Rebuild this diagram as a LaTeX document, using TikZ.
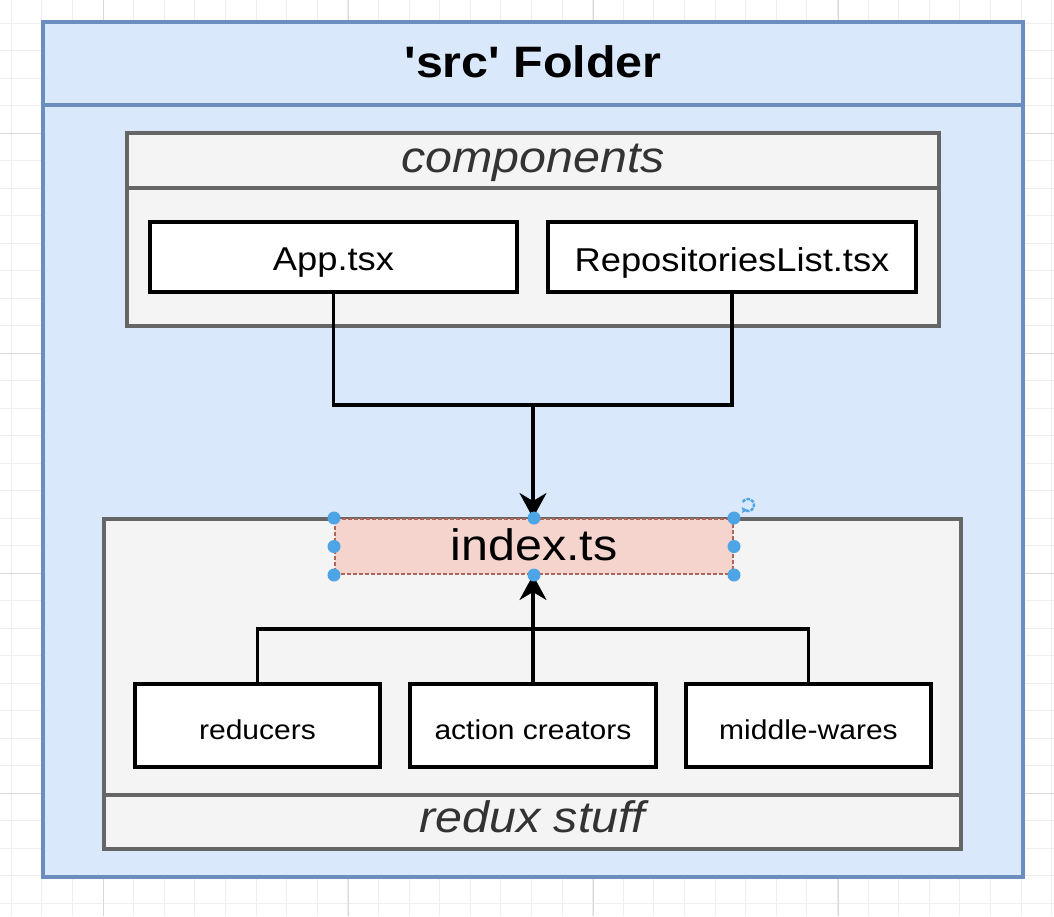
\documentclass[tikz,border=0pt]{standalone}
\usepackage{fontspec}
\setmainfont{Liberation Sans}[FakeStretch=1.1, Ligatures=TeXOff]
\usetikzlibrary{arrows.meta}

\definecolor{folderfill}{HTML}{DAE8FC}
\definecolor{folderline}{HTML}{6C8EBF}
\definecolor{groupfill}{HTML}{F4F4F4}
\definecolor{groupline}{HTML}{666666}
\definecolor{grouptext}{HTML}{333333}
\definecolor{entryfill}{HTML}{F5D4CE}
\definecolor{entryline}{HTML}{B0645A}
\definecolor{handle}{HTML}{4EA5E6}
\definecolor{gridminor}{HTML}{EEEEEE}
\definecolor{gridmajor}{HTML}{D8D8D8}

\tikzset{
  folder/.style={draw=folderline, fill=folderfill, line width=3.2pt, inner sep=0pt},
  group/.style={draw=groupline, fill=groupfill, line width=3.2pt, inner sep=0pt},
  filebox/.style={draw=black, fill=white, line width=3.2pt, inner sep=0pt},
  entrybox/.style={draw=entryline, fill=entryfill, line width=2pt, dash pattern=on 4pt off 2pt, inner sep=0pt},
  label/.style={anchor=base, inner sep=0pt},
  grouplabel/.style={label, font=\fontsize{44}{48}\selectfont\itshape, text=grouptext},
  bigfile/.style={label, font=\fontsize{33}{36}\selectfont},
  smallfile/.style={label, font=\fontsize{27.3}{30}\selectfont},
  conn/.style={draw=black, line width=3.2pt},
  arrowconn/.style={conn, -{Stealth[length=25pt, width=27pt, inset=8pt]}},
  selhandle/.style={fill=handle, draw=none},
}

\begin{document}
\begin{tikzpicture}[x=1pt, y=-1pt]
  % canvas with grid
  \fill[white] (0,0) rectangle (1054,916);
  \useasboundingbox (0,0) rectangle (1054,916);
  \foreach \i in {0,...,34} {
    \draw[gridminor, line width=1pt] ({11.2+30.6*\i},0) -- ({11.2+30.6*\i},916);
  }
  \foreach \j in {-4,...,28} {
    \draw[gridminor, line width=1pt] (0,{133+27.5*\j}) -- (1054,{133+27.5*\j});
  }
  \foreach \i in {0,...,4} {
    \draw[gridmajor, line width=1pt] ({103+245*\i},0) -- ({103+245*\i},916);
  }
  \foreach \j in {0,...,3} {
    \draw[gridmajor, line width=1pt] (0,{133+220*\j}) -- (1054,{133+220*\j});
  }

  % outer folder
  \node[folder, minimum width=980pt, minimum height=855pt] (src) at (533,449.5) {};
  \draw[folderline, line width=3.2pt] (43,105) -- (1023,105);
  \node[label, font=\fontsize{44}{48}\selectfont\bfseries] (srctitle) at (533,77) {'src' Folder};

  % components group
  \node[group, minimum width=812pt, minimum height=193pt] (comp) at (533,229.5) {};
  \draw[groupline, line width=3.2pt] (127,188) -- (939,188);
  \node[grouplabel] (complabel) at (533,172) {components};
  \node[filebox, minimum width=367pt, minimum height=70pt] (app) at (333.5,257) {};
  \node[bigfile] (applabel) at (333.5,270) {App.tsx};
  \node[filebox, minimum width=368pt, minimum height=70pt] (repo) at (732,257) {};
  \node[bigfile] (repolabel) at (732,271) {RepositoriesList.tsx};

  % redux group
  \node[group, minimum width=857pt, minimum height=330pt] (redux) at (532.5,684) {};
  \draw[groupline, line width=3.2pt] (104,795) -- (961,795);
  \node[grouplabel] (reduxlabel) at (532.5,832) {redux stuff};
  \node[entrybox, minimum width=398pt, minimum height=55pt] (index) at (534,546.5) {};
  \node[label, font=\fontsize{44}{48}\selectfont] (indexlabel) at (534,560) {index.ts};
  \node[filebox, minimum width=245pt, minimum height=83pt] (red) at (257.5,725.5) {};
  \node[smallfile] (redlabel) at (257.5,739) {reducers};
  \node[filebox, minimum width=246pt, minimum height=83pt] (act) at (533,725.5) {};
  \node[smallfile] (actlabel) at (533,739) {action creators};
  \node[filebox, minimum width=245pt, minimum height=83pt] (mid) at (808.5,725.5) {};
  \node[smallfile] (midlabel) at (808.5,739) {middle-wares};

  % connectors: components into index.ts
  \coordinate (topjoin) at (533,405);
  \draw[conn] (app.south) |- (topjoin) -| (repo.south);
  \draw[arrowconn] (topjoin) -- (topjoin |- index.north);

  % connectors: redux parts into index.ts
  \coordinate (botjoin) at (533,629);
  \draw[conn] (red.north) |- (botjoin) -| (mid.north);
  \draw[arrowconn] (act.north) -- (act.north |- index.south);

  % selection handles around index.ts
  \foreach \a in {north west, north, north east, west, east, south west, south, south east} {
    \fill[selhandle] (index.\a) circle (6.5pt);
  }
  \draw[handle, line width=2.4pt, dash pattern=on 3.5pt off 1.2pt, -{Triangle[length=4pt, width=6pt]}]
    (748,505) ++(-150:6) arc[start angle=-150, end angle=150, radius=6];
\end{tikzpicture}
\end{document}
